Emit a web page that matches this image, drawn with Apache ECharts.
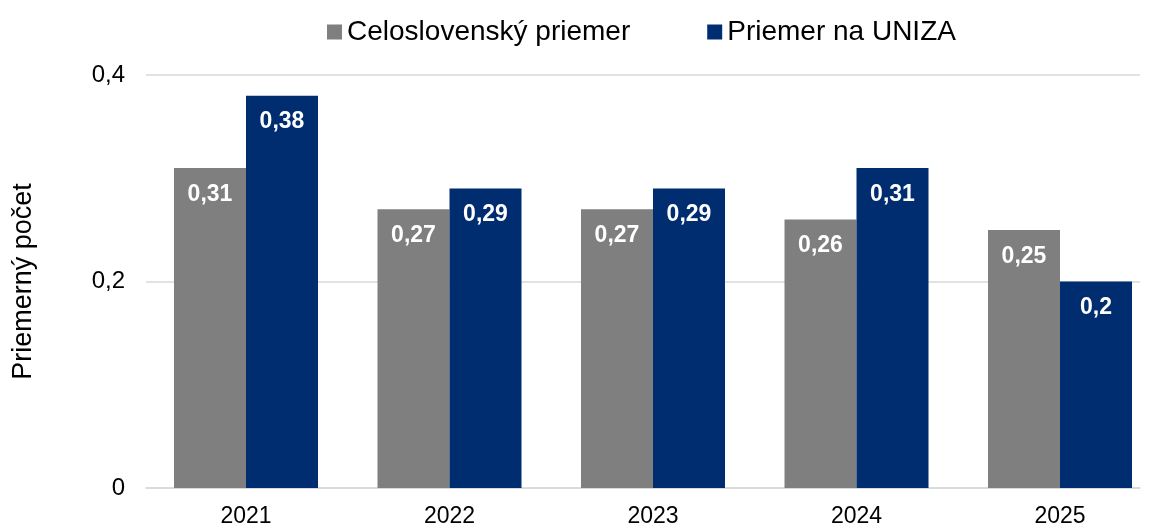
<!DOCTYPE html>
<html>
<head>
<meta charset="utf-8">
<script src="https://cdn.jsdelivr.net/npm/echarts@6/dist/echarts.min.js"></script>
<style>
  html, body { margin: 0; padding: 0; background: #fff; }
  #chart { width: 1153px; height: 529px; }
</style>
</head>
<body>
<div id="chart"></div>
<script>
// kategórie a hodnoty
const years = ['2021', '2022', '2023', '2024', '2025']
const slovakAvg = [0.31, 0.27, 0.27, 0.26, 0.25]
const unizaAvg = [0.38, 0.29, 0.29, 0.31, 0.2]
const seriesNames = ['Celoslovenský priemer', 'Priemer na UNIZA']

const font = 'Arial, "Liberation Sans", sans-serif'
const fmt = v => String(v).replace('.', ',')

const chart = echarts.init(document.getElementById('chart'))

const label = {
  show: true,
  position: 'insideTop',
  distance: 15,
  color: '#fff',
  fontWeight: 'bold',
  fontSize: 23,
  fontFamily: font,
  formatter: p => fmt(p.value)
}

chart.setOption({
  animation: false,
  legend: {
    data: seriesNames,
    left: 322,
    top: 13,
    itemWidth: 15,
    itemHeight: 15,
    itemGap: 77,
    icon: 'rect',
    textStyle: { fontSize: 28, color: '#000', fontFamily: font }
  },
  // grid 0: mriežka a os Y, grid 1: stĺpce (kategórie na okrajoch)
  grid: [
    { left: 146, right: 13, top: 75, bottom: 41 },
    { left: 246, width: 814, top: 75, bottom: 41 }
  ],
  xAxis: [
    {
      gridIndex: 0,
      type: 'value',
      min: 0,
      max: 1,
      axisLine: { show: true, onZero: false, lineStyle: { color: '#d9d9d9', width: 1.5 } },
      axisTick: { show: false },
      axisLabel: { show: false },
      splitLine: { show: false }
    },
    {
      gridIndex: 1,
      type: 'category',
      data: years,
      boundaryGap: false,
      axisTick: { show: false },
      axisLine: { show: false },
      axisLabel: { color: '#000', fontSize: 23, fontFamily: font, margin: 17 }
    }
  ],
  yAxis: [
    {
      gridIndex: 0,
      type: 'value',
      min: 0,
      max: 0.4,
      interval: 0.2,
      name: 'Priemerný počet',
      nameLocation: 'middle',
      nameGap: 109,
      nameTextStyle: { color: '#000', fontSize: 27, fontFamily: font },
      axisLine: { show: false },
      axisTick: { show: false },
      axisLabel: { color: '#000', fontSize: 24, fontFamily: font, margin: 21, formatter: v => fmt(v) },
      splitLine: { lineStyle: { color: '#d9d9d9', width: 1.5 } }
    },
    {
      gridIndex: 1,
      type: 'value',
      min: 0,
      max: 0.4,
      show: false,
      splitLine: { show: false }
    }
  ],
  series: [
    {
      name: seriesNames[0],
      type: 'bar',
      xAxisIndex: 1,
      yAxisIndex: 1,
      data: slovakAvg,
      barWidth: 72,
      barGap: '0%',
      itemStyle: { color: '#7f7f7f' },
      label: label
    },
    {
      name: seriesNames[1],
      type: 'bar',
      xAxisIndex: 1,
      yAxisIndex: 1,
      data: unizaAvg,
      barWidth: 72,
      itemStyle: { color: '#002d6f' },
      label: label
    }
  ]
})
</script>
</body>
</html>
